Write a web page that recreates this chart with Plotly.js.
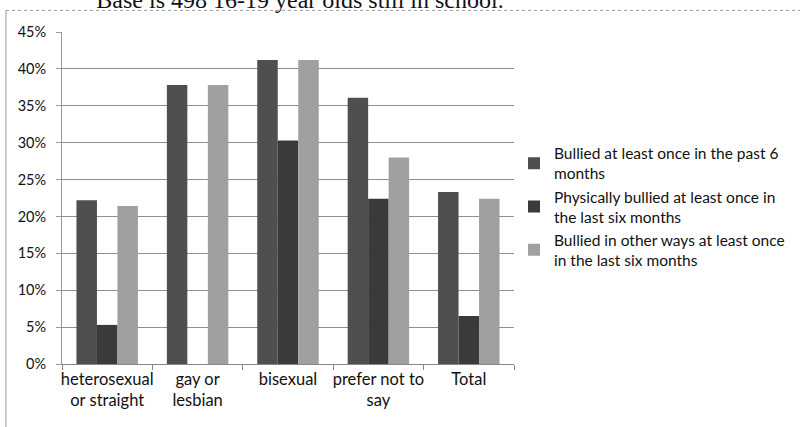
<!DOCTYPE html>
<html>
<head>
<meta charset="utf-8">
<script src="https://cdn.plot.ly/plotly-3.0.1.min.js"></script>
<style>
html,body{margin:0;padding:0;background:#fff;}
#chart{width:800px;height:427px;}
</style>
</head>
<body>
<div id="chart"></div>
<script>
const categories = ["heterosexual<br>or straight", "gay or<br>lesbian", "bisexual", "prefer not to<br>say", "Total"];
const seriesNames = [
  "Bullied at least once in the past 6<br>months",
  "Physically bullied at least once in<br>the last six months",
  "Bullied in other ways at least once<br>in the last six months"
];
const bulliedAny = [22.2, 37.8, 41.2, 36.1, 23.3];
const bulliedPhysical = [5.3, 0, 30.3, 22.4, 6.5];
const bulliedOther = [21.4, 37.8, 41.2, 28.0, 22.4];
const yTickVals = [0, 5, 10, 15, 20, 25, 30, 35, 40, 45];
const yTickText = ["0%", "5%", "10%", "15%", "20%", "25%", "30%", "35%", "40%", "45%"];
const titleText = "Base is 498 16-19 year olds still in school.";

const colors = ["#4f4f4f", "#3a3a3a", "#a0a0a0"];
const seriesValues = [bulliedAny, bulliedPhysical, bulliedOther];

const data = seriesValues.map((vals, i) => ({
  type: "bar",
  x: categories,
  y: vals,
  name: seriesNames[i],
  marker: {color: colors[i], line: {width: 0}},
  hoverinfo: "none"
}));

const layout = {
  width: 800, height: 427,
  margin: {l: 62, r: 286, t: 32, b: 63, autoexpand: false},
  paper_bgcolor: "#fff", plot_bgcolor: "#fff",
  barmode: "group", bargap: 0.32, bargroupgap: 0,
  font: {family: "Lato, 'Open Sans', sans-serif", size: 15, color: "#111"},
  title: {
    text: titleText,
    font: {family: "'Liberation Serif', 'DejaVu Serif', serif", size: 24, color: "#111"},
    x: 0.375, xanchor: "center", y: 1.0, yanchor: "middle"
  },
  xaxis: {
    type: "category",
    showline: true, linecolor: "#888", linewidth: 1,
    ticks: "outside", ticklen: 5, tickcolor: "#888", tickson: "boundaries",
    tickangle: 0, automargin: false,
    showgrid: false,
    tickfont: {size: 16.5, color: "#111"}
  },
  yaxis: {
    range: [0, 45],
    tickvals: yTickVals, ticktext: yTickText,
    showline: true, linecolor: "#999", linewidth: 1,
    ticks: "outside", ticklen: 5, tickcolor: "#999",
    ticklabelstandoff: 7, automargin: false,
    showgrid: true, gridcolor: "#8f8f8f", gridwidth: 1,
    zeroline: false,
    tickfont: {size: 14.5, color: "#111"}
  },
  legend: {
    x: 1.0, xanchor: "left", y: 0.685, yanchor: "top",
    font: {size: 15.5, color: "#111"},
    itemwidth: 30,
    bgcolor: "rgba(0,0,0,0)"
  },
  shapes: [
    {type: "line", xref: "paper", yref: "paper", x0: -0.124, x1: 1.64, y0: 1.065, y1: 1.065, line: {color: "#999", width: 1, dash: "dot"}},
    {type: "line", xref: "paper", yref: "paper", x0: -0.124, x1: -0.124, y0: 1.065, y1: -0.2, line: {color: "#999", width: 1}}
  ],
  showlegend: true
};

Plotly.newPlot("chart", data, layout, {displayModeBar: false, staticPlot: true});
</script>
</body>
</html>
